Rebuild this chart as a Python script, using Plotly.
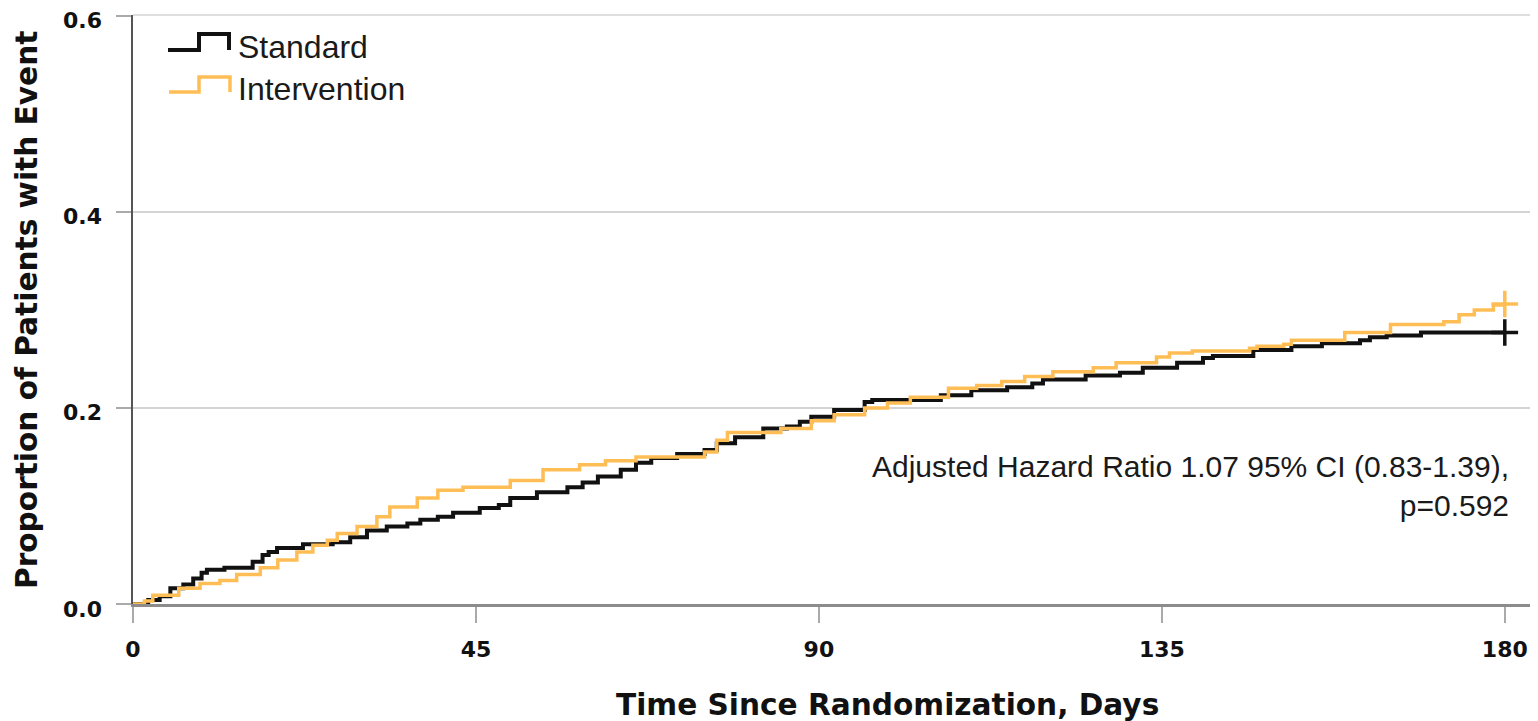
import plotly.graph_objects as go

# ---- data (cumulative proportion with event) ----
standard_days = [0, 2.0, 3.5, 4.9, 6.6, 7.9, 9.0, 9.7, 12.0, 15.7, 17.0, 17.8, 18.9, 22.3,
                 26.2, 28.5, 30.7, 33.3, 36.0, 37.7, 40.0, 42.0, 45.5, 48.0, 49.5, 53.0,
                 57.0, 59.0, 61.0, 64.0, 66.0, 68.0, 71.4, 75.0, 76.6, 79.0, 82.7, 85.8,
                 87.5, 89.0, 92.0, 96.0, 97.0, 106.0, 110.0, 114.7, 118.0, 119.4, 125.0,
                 129.5, 132.5, 137.0, 140.4, 141.7, 147.0, 152.0, 156.0, 161.0, 162.3,
                 164.5, 169.0, 180.0]
standard_prop = [0, 0.004, 0.008, 0.016, 0.020, 0.026, 0.032, 0.035, 0.037, 0.043, 0.050,
                 0.053, 0.057, 0.061, 0.063, 0.068, 0.075, 0.079, 0.082, 0.086, 0.089,
                 0.093, 0.098, 0.101, 0.108, 0.114, 0.119, 0.124, 0.130, 0.137, 0.144,
                 0.149, 0.153, 0.157, 0.164, 0.170, 0.179, 0.181, 0.186, 0.191, 0.198,
                 0.206, 0.208, 0.213, 0.218, 0.221, 0.225, 0.229, 0.233, 0.236, 0.241,
                 0.246, 0.251, 0.253, 0.259, 0.263, 0.266, 0.269, 0.272, 0.274, 0.277,
                 0.277]

intervention_days = [0, 1.5, 2.6, 6.0, 8.8, 11.4, 13.6, 16.7, 19.0, 21.5, 23.6, 25.5, 26.8,
                     29.4, 32.0, 33.7, 37.3, 40.0, 43.3, 49.5, 53.8, 58.6, 62.0, 66.0,
                     75.0, 76.6, 78.0, 85.0, 89.0, 92.0, 96.0, 99.0, 102.0, 107.0, 110.7,
                     114.0, 117.0, 120.7, 126.0, 129.0, 134.3, 136.0, 139.0, 146.5, 147.5,
                     151.0, 152.0, 159.0, 165.0, 172.0, 174.0, 176.0, 178.5, 180.0]
intervention_prop = [0, 0.003, 0.009, 0.016, 0.021, 0.024, 0.030, 0.037, 0.045, 0.053,
                     0.060, 0.065, 0.072, 0.079, 0.089, 0.099, 0.108, 0.116, 0.119, 0.126,
                     0.137, 0.142, 0.146, 0.150, 0.155, 0.167, 0.175, 0.179, 0.187, 0.193,
                     0.200, 0.205, 0.211, 0.220, 0.223, 0.227, 0.232, 0.237, 0.241, 0.246,
                     0.252, 0.256, 0.258, 0.261, 0.263, 0.265, 0.269, 0.277, 0.285, 0.288,
                     0.295, 0.300, 0.305, 0.305]

censor_days = [180.0]
standard_censor = [0.277]
intervention_censor = [0.306]

x_ticks = [0, 45, 90, 135, 180]
y_ticks = [0.0, 0.2, 0.4, 0.6]
y_tick_text = ["0.0", "0.2", "0.4", "0.6"]

series_names = ["Standard", "Intervention"]
BLACK = "#111111"
ORANGE = "#FFBE55"
GRID = "#d4d4d4"

# The page body has an 8px margin, so figure pixels = screen pixels - 8.
OFF = 8
FIG_W, FIG_H = 1538 - OFF, 721 - OFF

fig = go.Figure()

fig.add_trace(go.Scatter(x=standard_days, y=standard_prop, mode="lines",
                         line=dict(color=BLACK, width=4, shape="hv"),
                         name=series_names[0], showlegend=False))
fig.add_trace(go.Scatter(x=censor_days, y=standard_censor, mode="markers",
                         marker=dict(symbol="cross-thin", size=19,
                                     line=dict(color=BLACK, width=3.5)),
                         showlegend=False, hoverinfo="skip"))
fig.add_trace(go.Scatter(x=intervention_days, y=intervention_prop, mode="lines",
                         line=dict(color=ORANGE, width=3.5, shape="hv"),
                         name=series_names[1], showlegend=False))
fig.add_trace(go.Scatter(x=censor_days, y=intervention_censor, mode="markers",
                         marker=dict(symbol="cross-thin", size=19,
                                     line=dict(color=ORANGE, width=3.5)),
                         showlegend=False, hoverinfo="skip"))

# plot area in screen pixels (for converting decoration positions)
L, R, T, B = 133, 1533, 15, 604
W, H = R - L, B - T


def px(xp):
    return (xp - L) / W


def py(yp):
    return (B - yp) / H


# custom step-shaped legend icons
def step_path(x0, x1, x2, ylo, yhi):
    return (f"M{px(x0)},{py(ylo)} L{px(x1)},{py(ylo)} L{px(x1)},{py(yhi)} "
            f"L{px(x2)},{py(yhi)} L{px(x2)},{py(ylo)}")


shapes = [
    dict(type="path", xref="paper", yref="paper",
         path=step_path(168, 199, 229, 50, 34),
         line=dict(color=BLACK, width=4)),
    dict(type="path", xref="paper", yref="paper",
         path=step_path(169, 199, 230, 92, 77),
         line=dict(color=ORANGE, width=3.5)),
    # top gridline at 0.6 (plotly drops the grid line lying on the plot edge)
    dict(type="line", xref="paper", yref="paper", x0=0, x1=1, y0=1, y1=1,
         line=dict(color=GRID, width=1.5), layer="above"),
]

annotations = [
    dict(x=px(236), y=py(47), xref="paper", yref="paper", text=series_names[0],
         showarrow=False, xanchor="left", yanchor="middle",
         font=dict(family="Liberation Sans, Arial", size=32, color="#1a1a1a")),
    dict(x=px(236), y=py(89), xref="paper", yref="paper", text=series_names[1],
         showarrow=False, xanchor="left", yanchor="middle",
         font=dict(family="Liberation Sans, Arial", size=32, color="#1a1a1a")),
    dict(x=px(1511), y=py(486), xref="paper", yref="paper",
         text="Adjusted Hazard Ratio 1.07 95% CI (0.83-1.39),<br>p=0.592",
         showarrow=False, xanchor="right", yanchor="middle", align="right",
         font=dict(family="Liberation Sans, Arial", size=30, color="#1a1a1a")),
    dict(x=px(887), y=py(705), xref="paper", yref="paper",
         text="Time Since Randomization, Days", showarrow=False,
         xanchor="center", yanchor="middle",
         font=dict(family="DejaVu Sans", size=29.6, color="#111111", weight="bold")),
    dict(x=px(27), y=py(310), xref="paper", yref="paper",
         text="Proportion of Patients with Event", showarrow=False, textangle=-90,
         xanchor="center", yanchor="middle",
         font=dict(family="DejaVu Sans", size=29.6, color="#111111", weight="bold")),
]

# y tick labels sit a few pixels below their grid lines in the reference
for v, t in zip(y_ticks, y_tick_text):
    annotations.append(dict(x=px(104), y=v, xref="paper", yref="y", text=t,
                            showarrow=False, xanchor="right", yanchor="middle",
                            yshift=-5,
                            font=dict(family="DejaVu Sans", size=22, color="#111111",
                                      weight="bold")))

fig.update_layout(
    width=FIG_W, height=FIG_H,
    margin=dict(l=L - OFF, r=1538 - R, t=T - OFF, b=721 - B, autoexpand=False),
    paper_bgcolor="white", plot_bgcolor="white",
    shapes=shapes, annotations=annotations,
    showlegend=False,
)

fig.update_xaxes(
    range=[0, 183.7], tickvals=x_ticks, ticktext=[str(v) for v in x_ticks],
    showgrid=False, zeroline=False,
    showline=True, linecolor="#8c8c8c", linewidth=3,
    ticks="outside", ticklen=16, tickwidth=2, tickcolor="#aaaaaa",
    ticklabelstandoff=8,
    tickfont=dict(family="DejaVu Sans", size=22, color="#111111", weight="bold"),
)
fig.update_yaxes(
    range=[0, 0.6008], tickvals=y_ticks, showticklabels=False,
    showgrid=True, gridcolor=GRID, gridwidth=1.5, zeroline=False,
    showline=True, linecolor="#555555", linewidth=2,
    ticks="outside", ticklen=15, tickwidth=2, tickcolor="#aaaaaa",
)

fig.write_html("out.html")
